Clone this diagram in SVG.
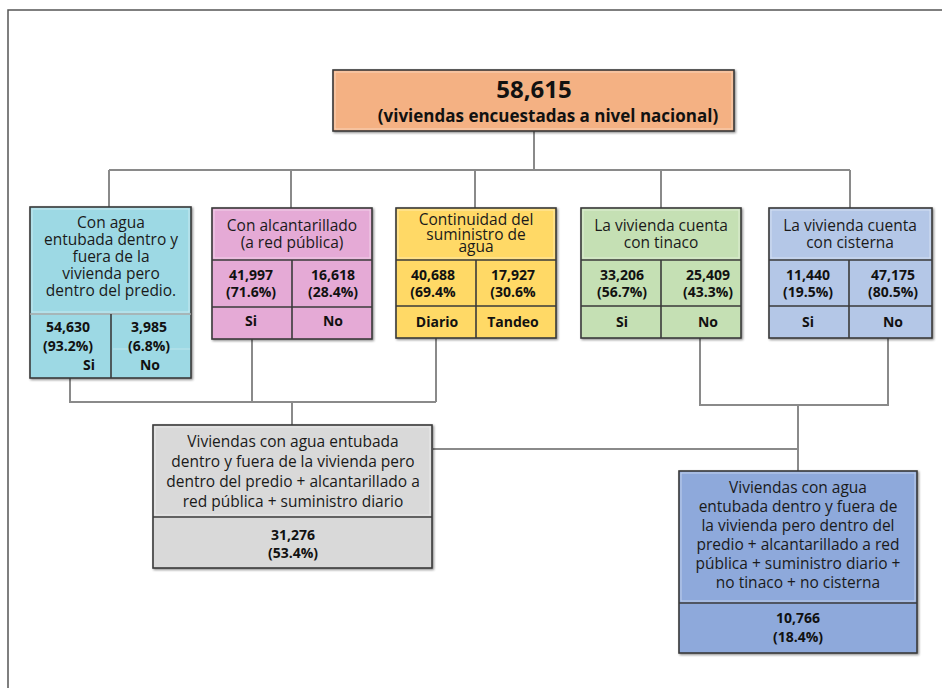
<svg xmlns="http://www.w3.org/2000/svg" width="942" height="688" viewBox="0 0 942 688">
  <defs>
    <filter id="shadow" x="-5%" y="-5%" width="115%" height="115%">
      <feDropShadow dx="1.2" dy="1.2" stdDeviation="0.8" flood-color="#000" flood-opacity="0.45"/>
    </filter>
    <style>
      .frame { fill: none; stroke: #555; stroke-width: 1.5; }
      .wire { fill: none; stroke: #8a8a8a; stroke-width: 2; }
      .box { stroke: #3a3a3a; stroke-width: 1.6; filter: url(#shadow); }
      .div { stroke: #3a3a3a; stroke-width: 1.6; }
      .soft { stroke: #aaa; stroke-width: 1.4; }
      .hl { fill: none; stroke: #fff; stroke-opacity: 0.45; stroke-width: 1; }
      .lbl { font-family: "Open Sans", "Noto Sans", "DejaVu Sans", sans-serif; font-size: 15.5px; fill: #1a1a1a; text-anchor: middle; }
      .num { font-family: "Open Sans", "Noto Sans", "DejaVu Sans", sans-serif; font-size: 14px; font-weight: bold; fill: #111; text-anchor: middle; }
      .ttl { font-family: "Open Sans", "Noto Sans", "DejaVu Sans", sans-serif; font-weight: bold; fill: #111; text-anchor: middle; }
      .orange { fill: #F4B183; }
      .cyan { fill: #9DD9E4; }
      .pink { fill: #E5AAD6; }
      .yellow { fill: #FFD966; }
      .green { fill: #C5E0B4; }
      .lblue { fill: #B4C7E7; }
      .grey { fill: #D9D9D9; }
      .blue { fill: #8EA9DB; }
    </style>
  </defs>

  <!-- outer frame -->
  <path class="frame" d="M8,688 V10 H942"/>

  <!-- connectors -->
  <g id="connectors">
    <path class="wire" d="M534,131 V170"/>
    <path class="wire" d="M109,170 H850"/>
    <path class="wire" d="M109,170 V207 M291,170 V208 M475,170 V208 M661,170 V208 M850,170 V208"/>
    <path class="wire" d="M70,378 V402 H436 M252,339 V402 M436,338 V402"/>
    <path class="wire" d="M292,402 V425"/>
    <path class="wire" d="M700,338 V405 H888 V338"/>
    <path class="wire" d="M798,405 V471"/>
    <path class="wire" d="M433,449 H798"/>
  </g>

  <!-- total surveyed dwellings -->
  <g id="total">
    <rect class="box orange" x="333" y="70" width="401" height="61"/>
    <rect class="hl" x="335" y="72" width="397" height="57"/>
    <text class="ttl" x="534" y="98" font-size="24">58,615</text>
    <text class="ttl" x="548" y="122" font-size="17">(viviendas encuestadas a nivel nacional)</text>
  </g>

  <!-- piped water -->
  <g id="agua">
    <rect class="box cyan" x="30" y="207" width="161" height="171"/>
    <rect class="hl" x="32" y="209" width="157" height="103"/>
    <line class="soft" x1="30" y1="314" x2="191" y2="314"/>
    <line class="div" x1="111" y1="314" x2="111" y2="378"/>
    <line x1="113" y1="349" x2="190" y2="349" stroke="#fff" stroke-opacity="0.35" stroke-width="1"/>
    <text class="lbl" x="111" y="228">Con agua</text>
    <text class="lbl" x="111" y="245">entubada dentro y</text>
    <text class="lbl" x="111" y="262">fuera de la</text>
    <text class="lbl" x="111" y="279">vivienda pero</text>
    <text class="lbl" x="111" y="296">dentro del predio.</text>
    <text class="num" x="68" y="332">54,630</text>
    <text class="num" x="68" y="351">(93.2%)</text>
    <text class="num" x="89" y="370">Si</text>
    <text class="num" x="149" y="332">3,985</text>
    <text class="num" x="149" y="351">(6.8%)</text>
    <text class="num" x="150" y="370">No</text>
  </g>

  <!-- sewerage -->
  <g id="alcantarillado">
    <rect class="box pink" x="212" y="208" width="160" height="131"/>
    <rect class="hl" x="214" y="210" width="156" height="48"/>
    <line class="div" x1="212" y1="260" x2="372" y2="260"/>
    <line class="div" x1="212" y1="307" x2="372" y2="307"/>
    <line class="div" x1="292" y1="260" x2="292" y2="339"/>
    <text class="lbl" x="292" y="231">Con alcantarillado</text>
    <text class="lbl" x="292" y="248">(a red pública)</text>
    <text class="num" x="251" y="280">41,997</text>
    <text class="num" x="251" y="297">(71.6%)</text>
    <text class="num" x="333" y="280">16,618</text>
    <text class="num" x="333" y="297">(28.4%)</text>
    <text class="num" x="251" y="326">Si</text>
    <text class="num" x="333" y="326">No</text>
  </g>

  <!-- supply continuity -->
  <g id="suministro">
    <rect class="box yellow" x="396" y="208" width="160" height="130"/>
    <rect class="hl" x="398" y="210" width="156" height="48"/>
    <line class="div" x1="396" y1="260" x2="556" y2="260"/>
    <line class="div" x1="396" y1="306" x2="556" y2="306"/>
    <line class="div" x1="476" y1="260" x2="476" y2="338"/>
    <text class="lbl" x="476" y="225">Continuidad del</text>
    <text class="lbl" x="476" y="240">suministro de</text>
    <text class="lbl" x="476" y="252">agua</text>
    <text class="num" x="433" y="280">40,688</text>
    <text class="num" x="433" y="297">(69.4%</text>
    <text class="num" x="513" y="280">17,927</text>
    <text class="num" x="513" y="297">(30.6%</text>
    <text class="num" x="437" y="327">Diario</text>
    <text class="num" x="513" y="327">Tandeo</text>
  </g>

  <!-- water tank -->
  <g id="tinaco">
    <rect class="box green" x="581" y="208" width="160" height="130"/>
    <rect class="hl" x="583" y="210" width="156" height="48"/>
    <line class="div" x1="581" y1="260" x2="741" y2="260"/>
    <line class="div" x1="581" y1="306" x2="741" y2="306"/>
    <line class="div" x1="661" y1="260" x2="661" y2="338"/>
    <text class="lbl" x="661" y="231">La vivienda cuenta</text>
    <text class="lbl" x="661" y="248">con tinaco</text>
    <text class="num" x="622" y="280">33,206</text>
    <text class="num" x="622" y="297">(56.7%)</text>
    <text class="num" x="708" y="280">25,409</text>
    <text class="num" x="708" y="297">(43.3%)</text>
    <text class="num" x="622" y="327">Si</text>
    <text class="num" x="708" y="327">No</text>
  </g>

  <!-- cistern -->
  <g id="cisterna">
    <rect class="box lblue" x="769" y="208" width="163" height="130"/>
    <rect class="hl" x="771" y="210" width="159" height="48"/>
    <line class="div" x1="769" y1="260" x2="932" y2="260"/>
    <line class="div" x1="769" y1="306" x2="932" y2="306"/>
    <line class="div" x1="849" y1="260" x2="849" y2="338"/>
    <text class="lbl" x="850" y="231">La vivienda cuenta</text>
    <text class="lbl" x="850" y="248">con cisterna</text>
    <text class="num" x="808" y="280">11,440</text>
    <text class="num" x="808" y="297">(19.5%)</text>
    <text class="num" x="893" y="280">47,175</text>
    <text class="num" x="893" y="297">(80.5%)</text>
    <text class="num" x="808" y="327">Si</text>
    <text class="num" x="893" y="327">No</text>
  </g>

  <!-- combined: water + sewerage + daily supply -->
  <g id="combinado1">
    <rect class="box grey" x="153" y="425" width="279" height="143"/>
    <rect class="hl" x="155" y="427" width="275" height="88"/>
    <line class="div" x1="153" y1="517" x2="432" y2="517"/>
    <text class="lbl" x="293" y="447">Viviendas con agua entubada</text>
    <text class="lbl" x="293" y="467">dentro y fuera de la vivienda pero</text>
    <text class="lbl" x="293" y="487">dentro del predio + alcantarillado a</text>
    <text class="lbl" x="293" y="507">red pública + suministro diario</text>
    <text class="num" x="293" y="540">31,276</text>
    <text class="num" x="293" y="558">(53.4%)</text>
  </g>

  <!-- combined: plus no tank and no cistern -->
  <g id="combinado2">
    <rect class="box blue" x="679" y="471" width="238" height="182"/>
    <rect class="hl" x="681" y="473" width="234" height="128"/>
    <line class="div" x1="679" y1="603" x2="917" y2="603"/>
    <text class="lbl" x="798" y="493">Viviendas con agua</text>
    <text class="lbl" x="798" y="512">entubada dentro y fuera de</text>
    <text class="lbl" x="798" y="531">la vivienda pero dentro del</text>
    <text class="lbl" x="798" y="550">predio + alcantarillado a red</text>
    <text class="lbl" x="798" y="569">pública + suministro diario +</text>
    <text class="lbl" x="798" y="588">no tinaco + no cisterna</text>
    <text class="num" x="798" y="623">10,766</text>
    <text class="num" x="798" y="642">(18.4%)</text>
  </g>
</svg>
